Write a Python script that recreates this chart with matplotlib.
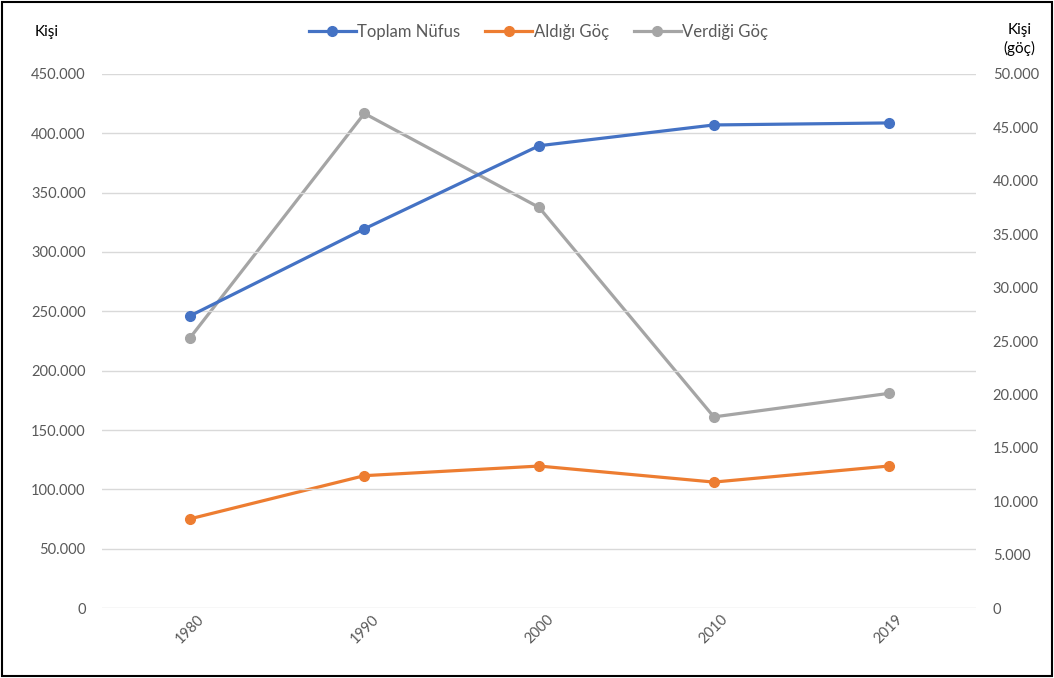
import matplotlib.pyplot as plt
from matplotlib.ticker import FuncFormatter
from matplotlib.lines import Line2D
from matplotlib.patches import Rectangle

plt.rcParams['font.family'] = ['Lato', 'DejaVu Sans']

years = ['1980', '1990', '2000', '2010', '2019']
toplam_nufus = [246000, 319500, 389500, 407000, 408700]
aldigi_goc = [8350, 12400, 13300, 11800, 13300]
verdigi_goc = [25250, 46300, 37500, 17900, 20100]

blue = '#4472C4'
orange = '#ED7D31'
gray = '#A5A5A5'
txt = '#595959'


def dotted(v, pos):
    return f'{int(v):,}'.replace(',', '.')


fig = plt.figure(figsize=(10.54, 6.78), dpi=100)
ax = fig.add_axes([0.097, 0.103, 0.829, 0.788])
ax2 = ax.twinx()

x = range(len(years))
ax.plot(x, toplam_nufus, color=blue, lw=2.3, marker='o', ms=7, zorder=3)
ax2.plot(x, aldigi_goc, color=orange, lw=2.3, marker='o', ms=7)
ax2.plot(x, verdigi_goc, color=gray, lw=2.3, marker='o', ms=7)

ax.set_xlim(-0.5, len(years) - 0.5)
ax.set_ylim(0, 450000)
ax2.set_ylim(0, 50000)
ax.set_yticks(range(0, 450001, 50000))
ax2.set_yticks(range(0, 50001, 5000))
ax.yaxis.set_major_formatter(FuncFormatter(dotted))
ax2.yaxis.set_major_formatter(FuncFormatter(dotted))

ax.set_xticks(list(x))
ax.set_xticklabels(years, rotation=45, color=txt, fontsize=10.5)
ax.grid(axis='y', color='#D9D9D9', lw=1)
ax.set_axisbelow(True)
for a in (ax, ax2):
    for s in a.spines.values():
        s.set_visible(False)
    a.tick_params(length=0, labelsize=10.5, labelcolor=txt)
ax.tick_params(axis='y', pad=12)
ax2.tick_params(axis='y', pad=12)
ax.tick_params(axis='x', pad=3)

# put ax2 lines above ax
ax.set_zorder(ax2.get_zorder() + 1)
ax.patch.set_visible(False)

fig.text(0.033, 0.953, 'Kişi', fontsize=11, color='black', va='center')
fig.text(0.967, 0.942, 'Kişi\n(göç)', fontsize=11, color='black', va='center',
         ha='center', linespacing=1.3)

handles = [Line2D([], [], color=c, lw=2.3, marker='o', ms=7) for c in (blue, orange, gray)]
fig.legend(handles, ['Toplam Nüfus', 'Aldığı Göç', 'Verdiği Göç'], loc='center',
           bbox_to_anchor=(0.511, 0.953), ncol=3, frameon=False, fontsize=12,
           handlelength=2.8, handletextpad=0.1, columnspacing=1.5,
           labelcolor=txt)

fig.patches.append(Rectangle((0.002, 0.003), 0.996, 0.994, transform=fig.transFigure,
                             fill=False, edgecolor='black', lw=1.5))

fig.savefig('out.png', dpi=100)
